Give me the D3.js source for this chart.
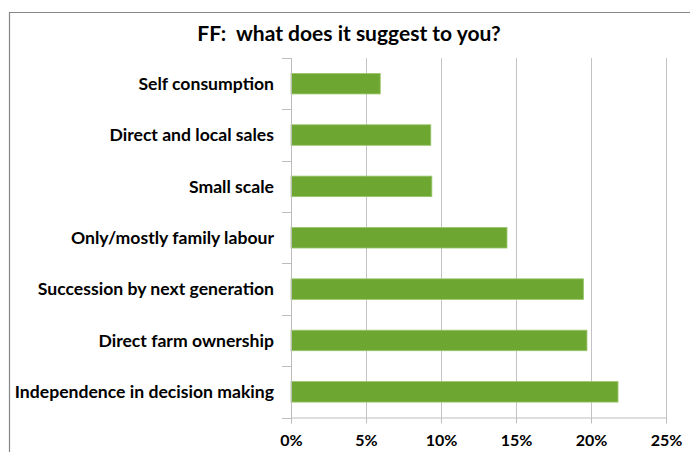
<!DOCTYPE html>
<html>
<head>
<meta charset="utf-8">
<script src="https://cdn.jsdelivr.net/npm/d3@7"></script>
<style>
  html, body { margin: 0; padding: 0; background: #fff; }
  svg { display: block; }
  text { font-family: Lato, "Open Sans", sans-serif; font-weight: bold; fill: #000; }
</style>
</head>
<body>
<svg id="chart" width="690" height="452"></svg>
<script>
// Answers, listed top to bottom as drawn
const categories = [
  "Self consumption",
  "Direct and local sales",
  "Small scale",
  "Only/mostly family labour",
  "Succession by next generation",
  "Direct farm ownership",
  "Independence in decision making"
];
// Share of respondents (%)
const values = [5.95, 9.32, 9.39, 14.4, 19.5, 19.73, 21.8];
const xTicks = [0, 5, 10, 15, 20, 25];
const title = "FF:  what does it suggest to you?";

const svg = d3.select("#chart");
const W = 690, H = 452;
const margin = { top: 58, right: 24, bottom: 34.5, left: 291 };
const innerW = W - margin.left - margin.right;
const innerH = H - margin.top - margin.bottom;

// Outer chart frame (only top and left edges fall inside the view)
svg.append("path")
  .attr("d", `M9.5,${H} V12.5 H${W}`)
  .attr("fill", "none")
  .attr("stroke", "#868686")
  .attr("stroke-width", 1.2);

svg.append("text")
  .attr("x", 349)
  .attr("y", 41)
  .attr("text-anchor", "middle")
  .style("font-size", "21px")
  .style("white-space", "pre")
  .attr("xml:space", "preserve")
  .text(title);

const g = svg.append("g").attr("transform", `translate(${margin.left},${margin.top})`);

const x = d3.scaleLinear().domain([0, 25]).range([0, innerW]);
const y = d3.scaleBand().domain(categories).range([0, innerH]).paddingInner(0.6).paddingOuter(0.3);
const yBands = d3.scaleBand().domain(categories).range([0, innerH]);

// Vertical gridlines
g.selectAll("line.grid")
  .data(xTicks.filter(t => t > 0))
  .join("line")
  .attr("class", "grid")
  .attr("x1", d => Math.round(x(d)) + 0.5)
  .attr("x2", d => Math.round(x(d)) + 0.5)
  .attr("y1", 0)
  .attr("y2", innerH)
  .attr("stroke", "#c3c3c3")
  .attr("stroke-width", 1);

// Bars
g.selectAll("rect.bar")
  .data(values)
  .join("rect")
  .attr("class", "bar")
  .attr("x", 0)
  .attr("y", (d, i) => y(categories[i]))
  .attr("width", d => x(d))
  .attr("height", y.bandwidth())
  .attr("fill", "#6ea632")
  .attr("stroke", "#9cc66c")
  .attr("stroke-width", 0.8);

// Category axis
const yAxis = g.append("g")
  .call(d3.axisLeft(yBands).tickSize(0).tickPadding(17))
  .call(a => a.select(".domain").remove());
yAxis.selectAll("text").style("font-size", "17.6px").attr("dy", "0.35em");

// Boundary ticks between categories
const boundaries = d3.range(categories.length + 1).map(i => i * yBands.step());
g.selectAll("line.ytick")
  .data(boundaries)
  .join("line")
  .attr("class", "ytick")
  .attr("x1", -9).attr("x2", 0)
  .attr("y1", d => Math.round(d) + 0.5)
  .attr("y2", d => Math.round(d) + 0.5)
  .attr("stroke", "#bdbdbd");
g.append("line")
  .attr("x1", 0.5).attr("x2", 0.5)
  .attr("y1", 0).attr("y2", innerH + 6)
  .attr("stroke", "#bdbdbd");

// Value axis
const xAxis = g.append("g")
  .attr("transform", `translate(0,${innerH})`)
  .call(d3.axisBottom(x).tickValues(xTicks).tickFormat(d => d + "%").tickSize(6).tickPadding(11));
xAxis.select(".domain").attr("stroke", "#bdbdbd").attr("d", `M0.5,0.5H${innerW + 0.5}`);
xAxis.selectAll(".tick line").attr("stroke", "#bdbdbd");
xAxis.selectAll("text").style("font-size", "16px");
</script>
</body>
</html>
